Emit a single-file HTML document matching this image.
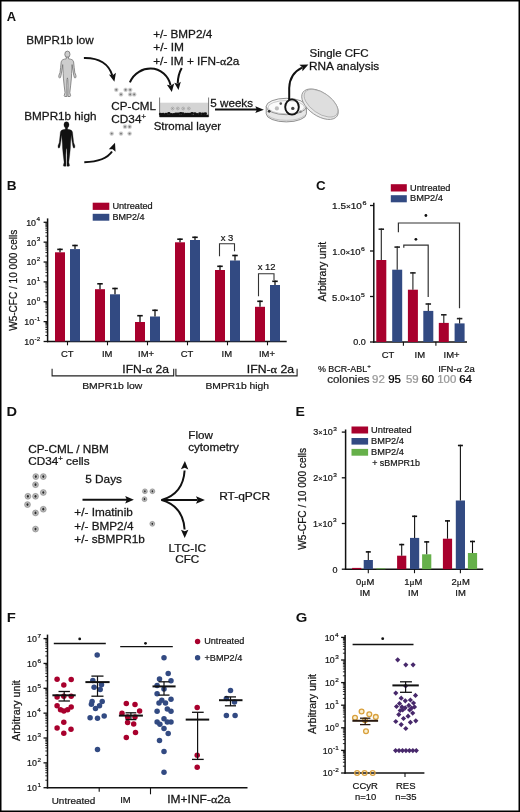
<!DOCTYPE html>
<html><head><meta charset="utf-8"><title>Figure</title>
<style>
html,body{margin:0;padding:0;background:#fff;}
.wrap{position:relative;width:520px;height:812px;overflow:hidden;background:#fff;}
svg{position:absolute;left:0;top:0;font-family:"Liberation Sans",Arial,Helvetica,sans-serif;}
</style></head><body><div class="wrap">
<svg width="520" height="812" viewBox="0 0 520 812">
<rect x="0" y="0" width="520" height="812" fill="#fff"/>
<text transform="translate(6.85,20.80) scale(0.9943,1)" font-size="13" font-weight="bold" fill="#111" >A</text>
<text transform="translate(26.31,44.20) scale(1.0930,1)" font-size="10.7" font-weight="normal" fill="#161616" stroke="#161616" stroke-width="0.25" >BMPR1b low</text>
<text transform="translate(24.31,119.60) scale(1.0942,1)" font-size="10.7" font-weight="normal" fill="#161616" stroke="#161616" stroke-width="0.25" >BMPR1b high</text>
<g transform="translate(58.6,51.1) scale(1.0,1.0)">
<ellipse cx="8.8" cy="3.2" rx="2.6" ry="3.2" fill="#cdcdcd" stroke="#6e6e6e" stroke-width="0.75"/>
<path d="M7.70,6.00 L7.60,7.80 C5.00,8.00 3.00,8.60 2.60,10.80 L2.00,16.50 L1.40,21.50 L0.30,24.20 L0.20,26.00 L1.00,27.00 L1.80,26.50 L2.40,24.50 L3.30,19.00 L4.10,13.50 L4.30,18.00 L4.60,22.50 L4.80,27.00 L5.50,34.00 L6.40,41.50 L5.60,44.60 L6.10,45.40 L8.30,45.40 L8.30,42.00 L8.20,34.00 L8.40,28.50 L8.8,26.8 L9.20,28.50 L9.40,34.00 L9.30,42.00 L9.30,45.40 L11.50,45.40 L12.00,44.60 L11.20,41.50 L12.10,34.00 L12.80,27.00 L13.00,22.50 L13.30,18.00 L13.50,13.50 L14.30,19.00 L15.20,24.50 L15.80,26.50 L16.60,27.00 L17.40,26.00 L17.30,24.20 L16.20,21.50 L15.60,16.50 L15.00,10.80 C14.60,8.60 12.60,8.00 10.00,7.80 L9.90,6.00 Z" fill="#cdcdcd" stroke="#6e6e6e" stroke-width="0.75" stroke-linejoin="round"/>
</g>
<g transform="translate(57.8,121.7) scale(0.983,0.98)">
<ellipse cx="8.8" cy="3.2" rx="2.6" ry="3.2" fill="#111" stroke="#111" stroke-width="0.3"/>
<path d="M7.70,6.00 L7.60,7.80 C5.00,8.00 3.00,8.60 2.60,10.80 L2.00,16.50 L1.40,21.50 L0.30,24.20 L0.20,26.00 L1.00,27.00 L1.80,26.50 L2.40,24.50 L3.30,19.00 L4.10,13.50 L4.30,18.00 L4.60,22.50 L4.80,27.00 L5.50,34.00 L6.40,41.50 L5.60,44.60 L6.10,45.40 L8.30,45.40 L8.30,42.00 L8.20,34.00 L8.40,28.50 L8.8,26.8 L9.20,28.50 L9.40,34.00 L9.30,42.00 L9.30,45.40 L11.50,45.40 L12.00,44.60 L11.20,41.50 L12.10,34.00 L12.80,27.00 L13.00,22.50 L13.30,18.00 L13.50,13.50 L14.30,19.00 L15.20,24.50 L15.80,26.50 L16.60,27.00 L17.40,26.00 L17.30,24.20 L16.20,21.50 L15.60,16.50 L15.00,10.80 C14.60,8.60 12.60,8.00 10.00,7.80 L9.90,6.00 Z" fill="#111" stroke="#111" stroke-width="0.3" stroke-linejoin="round"/>
</g>
<path d="M83.9,57.9 C99,57.5 109,64 112.3,75.5" fill="none" stroke="#111" stroke-width="2.0" />
<path d="M114.40,81.70 L108.92,74.61 L112.78,75.20 L115.91,72.87 Z" fill="#111"/>
<path d="M84.3,162.2 C98,161.8 108,157.5 112,151.5" fill="none" stroke="#111" stroke-width="2.0" />
<path d="M115.00,142.80 L115.54,151.83 L112.67,149.19 L108.78,149.37 Z" fill="#111"/>
<circle cx="116.3" cy="89.8" r="2.4" fill="#e2e2e2"/>
<circle cx="116.3" cy="89.8" r="1.9" fill="#c6c6c6"/>
<circle cx="116.3" cy="89.8" r="0.95" fill="#7a7a7a"/>
<circle cx="125.6" cy="89.8" r="2.4" fill="#e2e2e2"/>
<circle cx="125.6" cy="89.8" r="1.9" fill="#c6c6c6"/>
<circle cx="125.6" cy="89.8" r="0.95" fill="#7a7a7a"/>
<circle cx="130.2" cy="89.8" r="2.4" fill="#e2e2e2"/>
<circle cx="130.2" cy="89.8" r="1.9" fill="#c6c6c6"/>
<circle cx="130.2" cy="89.8" r="0.95" fill="#7a7a7a"/>
<circle cx="121" cy="94.4" r="2.4" fill="#e2e2e2"/>
<circle cx="121" cy="94.4" r="1.9" fill="#c6c6c6"/>
<circle cx="121" cy="94.4" r="0.95" fill="#7a7a7a"/>
<circle cx="130.2" cy="94.4" r="2.4" fill="#e2e2e2"/>
<circle cx="130.2" cy="94.4" r="1.9" fill="#c6c6c6"/>
<circle cx="130.2" cy="94.4" r="0.95" fill="#7a7a7a"/>
<circle cx="134.2" cy="94.4" r="2.4" fill="#e2e2e2"/>
<circle cx="134.2" cy="94.4" r="1.9" fill="#c6c6c6"/>
<circle cx="134.2" cy="94.4" r="0.95" fill="#7a7a7a"/>
<circle cx="125" cy="126.7" r="2.4" fill="#e2e2e2"/>
<circle cx="125" cy="126.7" r="1.9" fill="#c6c6c6"/>
<circle cx="125" cy="126.7" r="0.95" fill="#7a7a7a"/>
<circle cx="129.6" cy="126.7" r="2.4" fill="#e2e2e2"/>
<circle cx="129.6" cy="126.7" r="1.9" fill="#c6c6c6"/>
<circle cx="129.6" cy="126.7" r="0.95" fill="#7a7a7a"/>
<circle cx="111.7" cy="133.6" r="2.4" fill="#e2e2e2"/>
<circle cx="111.7" cy="133.6" r="1.9" fill="#c6c6c6"/>
<circle cx="111.7" cy="133.6" r="0.95" fill="#7a7a7a"/>
<circle cx="121" cy="133.6" r="2.4" fill="#e2e2e2"/>
<circle cx="121" cy="133.6" r="1.9" fill="#c6c6c6"/>
<circle cx="121" cy="133.6" r="0.95" fill="#7a7a7a"/>
<circle cx="129.6" cy="133.6" r="2.4" fill="#e2e2e2"/>
<circle cx="129.6" cy="133.6" r="1.9" fill="#c6c6c6"/>
<circle cx="129.6" cy="133.6" r="0.95" fill="#7a7a7a"/>
<text transform="translate(111.37,109.80) scale(1.0683,1)" font-size="10.9" font-weight="normal" fill="#161616" stroke="#161616" stroke-width="0.25" >CP-CML</text>
<text transform="translate(111.36,122.50) scale(1.0806,1)" font-size="10.9" font-weight="normal" fill="#161616" stroke="#161616" stroke-width="0.25" >CD34<tspan font-size="7" dy="-4">+</tspan></text>
<path d="M129.9,82.4 C134,72.5 143,68.6 150.6,68.6 C161,68.6 168.5,76.5 170.5,85" fill="none" stroke="#111" stroke-width="2.0" />
<path d="M171.80,92.00 L166.89,84.68 L170.78,85.58 L174.20,83.52 Z" fill="#111"/>
<path d="M181.7,68.1 C179.5,72 177.9,77 177.7,83.5" fill="none" stroke="#111" stroke-width="2.0" />
<path d="M178.50,90.00 L174.27,82.66 L177.72,83.65 L180.82,81.86 Z" fill="#111"/>
<text transform="translate(153.24,38.10) scale(1.1282,1)" font-size="10.4" font-weight="normal" fill="#161616" stroke="#161616" stroke-width="0.25" >+/- BMP2/4</text>
<text transform="translate(153.23,51.30) scale(1.1490,1)" font-size="10.4" font-weight="normal" fill="#161616" stroke="#161616" stroke-width="0.25" >+/- IM</text>
<text transform="translate(153.23,65.40) scale(1.1338,1)" font-size="10.4" font-weight="normal" fill="#161616" stroke="#161616" stroke-width="0.25" >+/- IM + IFN-<tspan font-family="Liberation Serif">α</tspan>2a</text>
<rect x="160.00" y="102.70" width="48.60" height="11.50" fill="#d4d4d4"/>
<line x1="159.60" y1="97.50" x2="159.60" y2="117.00" stroke="#555" stroke-width="0.8"/>
<line x1="208.60" y1="97.50" x2="208.60" y2="117.00" stroke="#555" stroke-width="0.8"/>
<rect x="159.60" y="114.60" width="49.00" height="2.60" fill="#111"/>
<ellipse cx="160.50" cy="114.12" rx="1.7" ry="1.45" fill="#111"/>
<ellipse cx="163.17" cy="114.30" rx="1.7" ry="1.45" fill="#111"/>
<ellipse cx="166.02" cy="114.24" rx="1.7" ry="1.45" fill="#111"/>
<ellipse cx="168.85" cy="113.53" rx="1.7" ry="1.45" fill="#111"/>
<ellipse cx="171.26" cy="114.44" rx="1.7" ry="1.45" fill="#111"/>
<ellipse cx="173.85" cy="114.40" rx="1.7" ry="1.45" fill="#111"/>
<ellipse cx="175.95" cy="113.97" rx="1.7" ry="1.45" fill="#111"/>
<ellipse cx="178.17" cy="114.04" rx="1.7" ry="1.45" fill="#111"/>
<ellipse cx="180.69" cy="113.51" rx="1.7" ry="1.45" fill="#111"/>
<ellipse cx="182.88" cy="113.78" rx="1.7" ry="1.45" fill="#111"/>
<ellipse cx="185.71" cy="114.27" rx="1.7" ry="1.45" fill="#111"/>
<ellipse cx="187.85" cy="114.30" rx="1.7" ry="1.45" fill="#111"/>
<ellipse cx="189.98" cy="114.12" rx="1.7" ry="1.45" fill="#111"/>
<ellipse cx="192.09" cy="113.50" rx="1.7" ry="1.45" fill="#111"/>
<ellipse cx="194.88" cy="113.71" rx="1.7" ry="1.45" fill="#111"/>
<ellipse cx="197.07" cy="114.48" rx="1.7" ry="1.45" fill="#111"/>
<ellipse cx="199.86" cy="113.79" rx="1.7" ry="1.45" fill="#111"/>
<ellipse cx="202.72" cy="114.04" rx="1.7" ry="1.45" fill="#111"/>
<ellipse cx="205.33" cy="113.70" rx="1.7" ry="1.45" fill="#111"/>
<circle cx="172.6" cy="108.5" r="1.35" fill="#e6e6e6" stroke="#8a8a8a" stroke-width="0.6"/>
<circle cx="172.6" cy="108.5" r="0.5" fill="#777"/>
<circle cx="177.8" cy="108.5" r="1.35" fill="#e6e6e6" stroke="#8a8a8a" stroke-width="0.6"/>
<circle cx="177.8" cy="108.5" r="0.5" fill="#777"/>
<circle cx="183.2" cy="108.5" r="1.35" fill="#e6e6e6" stroke="#8a8a8a" stroke-width="0.6"/>
<circle cx="183.2" cy="108.5" r="0.5" fill="#777"/>
<circle cx="188.8" cy="108.5" r="1.35" fill="#e6e6e6" stroke="#8a8a8a" stroke-width="0.6"/>
<circle cx="188.8" cy="108.5" r="0.5" fill="#777"/>
<text transform="translate(153.65,129.90) scale(1.1025,1)" font-size="10.4" font-weight="normal" fill="#161616" stroke="#161616" stroke-width="0.25" >Stromal layer</text>
<text transform="translate(210.34,107.10) scale(1.1195,1)" font-size="10.4" font-weight="normal" fill="#161616" stroke="#161616" stroke-width="0.25" >5 weeks</text>
<line x1="215.00" y1="109.60" x2="257.50" y2="109.60" stroke="#111" stroke-width="2"/>
<path d="M263.90,109.70 L255.30,113.10 L256.80,109.70 L255.30,106.30 Z" fill="#111"/>
<path d="M266.2,106.5 L266.2,113.7 A20.1,8.2 0 0 0 306.4,113.7 L306.4,106.5 Z" fill="#e6e6e6" stroke="#777" stroke-width="0.8"/>
<path d="M268,115.5 A20.1,8.2 0 0 0 304.6,115.5" fill="none" stroke="#aaa" stroke-width="0.6"/>
<ellipse cx="286.3" cy="106.5" rx="20.1" ry="8.2" fill="#f6f6f6" stroke="#777" stroke-width="0.8"/>
<ellipse cx="286.3" cy="107.2" rx="18.2" ry="6.6" fill="#fbfbfb" stroke="#aaa" stroke-width="0.6"/>
<circle cx="276.9" cy="108.4" r="2.1" fill="#bdbdbd"/>
<circle cx="269.2" cy="111.3" r="1.4" fill="#333"/>
<circle cx="280.75" cy="103.6" r="1.3" fill="#555"/>
<circle cx="292.8" cy="108.4" r="1.7" fill="#444"/>
<circle cx="300.5" cy="111.8" r="1.2" fill="#888"/>
<ellipse cx="320" cy="104.2" rx="20.8" ry="11.6" transform="rotate(35 320 104.2)" fill="#e9e9e9" stroke="#888" stroke-width="0.8"/>
<ellipse cx="321" cy="103.2" rx="19.3" ry="10.2" transform="rotate(35 321 103.2)" fill="#dedede" stroke="#9a9a9a" stroke-width="0.6"/>
<ellipse cx="292" cy="107" rx="6.8" ry="7.6" fill="none" stroke="#111" stroke-width="1.9"/>
<path d="M289.2,100 L289.2,88 C289.5,78 294,71.5 302,67.6" fill="none" stroke="#111" stroke-width="2.0" />
<path d="M308.40,64.40 L302.43,71.14 L302.27,67.34 L299.40,64.83 Z" fill="#111"/>
<text transform="translate(309.47,57.30) scale(1.0594,1)" font-size="10.9" font-weight="normal" fill="#161616" stroke="#161616" stroke-width="0.25" >Single CFC</text>
<text transform="translate(308.91,69.80) scale(1.0862,1)" font-size="10.9" font-weight="normal" fill="#161616" stroke="#161616" stroke-width="0.25" >RNA analysis</text>
<text transform="translate(6.71,189.60) scale(1.0500,1)" font-size="13" font-weight="bold" fill="#111" >B</text>
<rect x="92.70" y="202.70" width="16.60" height="7.20" fill="#a8002d"/>
<rect x="92.70" y="213.80" width="16.60" height="6.90" fill="#324a82"/>
<text transform="translate(112.40,208.80) scale(1.0685,1)" font-size="8.6" font-weight="normal" fill="#161616" stroke="#161616" stroke-width="0.2" >Untreated</text>
<text transform="translate(112.41,219.90) scale(1.0508,1)" font-size="8.6" font-weight="normal" fill="#161616" stroke="#161616" stroke-width="0.2" >BMP2/4</text>
<line x1="47.60" y1="218.40" x2="47.60" y2="342.20" stroke="#111" stroke-width="1.5"/>
<line x1="46.90" y1="341.50" x2="286.70" y2="341.50" stroke="#111" stroke-width="1.5"/>
<line x1="43.60" y1="341.50" x2="47.60" y2="341.50" stroke="#111" stroke-width="1.3"/>
<line x1="45.40" y1="335.52" x2="47.60" y2="335.52" stroke="#111" stroke-width="0.9"/>
<line x1="45.40" y1="332.02" x2="47.60" y2="332.02" stroke="#111" stroke-width="0.9"/>
<line x1="45.40" y1="329.54" x2="47.60" y2="329.54" stroke="#111" stroke-width="0.9"/>
<line x1="45.40" y1="327.61" x2="47.60" y2="327.61" stroke="#111" stroke-width="0.9"/>
<line x1="45.40" y1="326.04" x2="47.60" y2="326.04" stroke="#111" stroke-width="0.9"/>
<line x1="45.40" y1="324.71" x2="47.60" y2="324.71" stroke="#111" stroke-width="0.9"/>
<line x1="45.40" y1="323.56" x2="47.60" y2="323.56" stroke="#111" stroke-width="0.9"/>
<line x1="45.40" y1="322.54" x2="47.60" y2="322.54" stroke="#111" stroke-width="0.9"/>
<line x1="43.60" y1="321.63" x2="47.60" y2="321.63" stroke="#111" stroke-width="1.3"/>
<line x1="45.40" y1="315.65" x2="47.60" y2="315.65" stroke="#111" stroke-width="0.9"/>
<line x1="45.40" y1="312.15" x2="47.60" y2="312.15" stroke="#111" stroke-width="0.9"/>
<line x1="45.40" y1="309.67" x2="47.60" y2="309.67" stroke="#111" stroke-width="0.9"/>
<line x1="45.40" y1="307.74" x2="47.60" y2="307.74" stroke="#111" stroke-width="0.9"/>
<line x1="45.40" y1="306.17" x2="47.60" y2="306.17" stroke="#111" stroke-width="0.9"/>
<line x1="45.40" y1="304.84" x2="47.60" y2="304.84" stroke="#111" stroke-width="0.9"/>
<line x1="45.40" y1="303.69" x2="47.60" y2="303.69" stroke="#111" stroke-width="0.9"/>
<line x1="45.40" y1="302.67" x2="47.60" y2="302.67" stroke="#111" stroke-width="0.9"/>
<line x1="43.60" y1="301.76" x2="47.60" y2="301.76" stroke="#111" stroke-width="1.3"/>
<line x1="45.40" y1="295.78" x2="47.60" y2="295.78" stroke="#111" stroke-width="0.9"/>
<line x1="45.40" y1="292.28" x2="47.60" y2="292.28" stroke="#111" stroke-width="0.9"/>
<line x1="45.40" y1="289.80" x2="47.60" y2="289.80" stroke="#111" stroke-width="0.9"/>
<line x1="45.40" y1="287.87" x2="47.60" y2="287.87" stroke="#111" stroke-width="0.9"/>
<line x1="45.40" y1="286.30" x2="47.60" y2="286.30" stroke="#111" stroke-width="0.9"/>
<line x1="45.40" y1="284.97" x2="47.60" y2="284.97" stroke="#111" stroke-width="0.9"/>
<line x1="45.40" y1="283.82" x2="47.60" y2="283.82" stroke="#111" stroke-width="0.9"/>
<line x1="45.40" y1="282.80" x2="47.60" y2="282.80" stroke="#111" stroke-width="0.9"/>
<line x1="43.60" y1="281.89" x2="47.60" y2="281.89" stroke="#111" stroke-width="1.3"/>
<line x1="45.40" y1="275.91" x2="47.60" y2="275.91" stroke="#111" stroke-width="0.9"/>
<line x1="45.40" y1="272.41" x2="47.60" y2="272.41" stroke="#111" stroke-width="0.9"/>
<line x1="45.40" y1="269.93" x2="47.60" y2="269.93" stroke="#111" stroke-width="0.9"/>
<line x1="45.40" y1="268.00" x2="47.60" y2="268.00" stroke="#111" stroke-width="0.9"/>
<line x1="45.40" y1="266.43" x2="47.60" y2="266.43" stroke="#111" stroke-width="0.9"/>
<line x1="45.40" y1="265.10" x2="47.60" y2="265.10" stroke="#111" stroke-width="0.9"/>
<line x1="45.40" y1="263.95" x2="47.60" y2="263.95" stroke="#111" stroke-width="0.9"/>
<line x1="45.40" y1="262.93" x2="47.60" y2="262.93" stroke="#111" stroke-width="0.9"/>
<line x1="43.60" y1="262.02" x2="47.60" y2="262.02" stroke="#111" stroke-width="1.3"/>
<line x1="45.40" y1="256.04" x2="47.60" y2="256.04" stroke="#111" stroke-width="0.9"/>
<line x1="45.40" y1="252.54" x2="47.60" y2="252.54" stroke="#111" stroke-width="0.9"/>
<line x1="45.40" y1="250.06" x2="47.60" y2="250.06" stroke="#111" stroke-width="0.9"/>
<line x1="45.40" y1="248.13" x2="47.60" y2="248.13" stroke="#111" stroke-width="0.9"/>
<line x1="45.40" y1="246.56" x2="47.60" y2="246.56" stroke="#111" stroke-width="0.9"/>
<line x1="45.40" y1="245.23" x2="47.60" y2="245.23" stroke="#111" stroke-width="0.9"/>
<line x1="45.40" y1="244.08" x2="47.60" y2="244.08" stroke="#111" stroke-width="0.9"/>
<line x1="45.40" y1="243.06" x2="47.60" y2="243.06" stroke="#111" stroke-width="0.9"/>
<line x1="43.60" y1="242.15" x2="47.60" y2="242.15" stroke="#111" stroke-width="1.3"/>
<line x1="45.40" y1="236.17" x2="47.60" y2="236.17" stroke="#111" stroke-width="0.9"/>
<line x1="45.40" y1="232.67" x2="47.60" y2="232.67" stroke="#111" stroke-width="0.9"/>
<line x1="45.40" y1="230.19" x2="47.60" y2="230.19" stroke="#111" stroke-width="0.9"/>
<line x1="45.40" y1="228.26" x2="47.60" y2="228.26" stroke="#111" stroke-width="0.9"/>
<line x1="45.40" y1="226.69" x2="47.60" y2="226.69" stroke="#111" stroke-width="0.9"/>
<line x1="45.40" y1="225.36" x2="47.60" y2="225.36" stroke="#111" stroke-width="0.9"/>
<line x1="45.40" y1="224.21" x2="47.60" y2="224.21" stroke="#111" stroke-width="0.9"/>
<line x1="45.40" y1="223.19" x2="47.60" y2="223.19" stroke="#111" stroke-width="0.9"/>
<line x1="43.60" y1="222.28" x2="47.60" y2="222.28" stroke="#111" stroke-width="1.3"/>
<text transform="translate(24.24,344.90) scale(1.0800,1)" font-size="8.2" font-weight="normal" fill="#161616" stroke="#161616" stroke-width="0.2" >10<tspan font-size="5.9" dx="0.45" dy="-4.2">-2</tspan></text>
<text transform="translate(24.24,325.03) scale(1.0800,1)" font-size="8.2" font-weight="normal" fill="#161616" stroke="#161616" stroke-width="0.2" >10<tspan font-size="5.9" dx="0.45" dy="-4.2">-1</tspan></text>
<text transform="translate(26.40,305.16) scale(1.0800,1)" font-size="8.2" font-weight="normal" fill="#161616" stroke="#161616" stroke-width="0.2" >10<tspan font-size="5.9" dx="0.45" dy="-4.2">0</tspan></text>
<text transform="translate(26.40,285.29) scale(1.0800,1)" font-size="8.2" font-weight="normal" fill="#161616" stroke="#161616" stroke-width="0.2" >10<tspan font-size="5.9" dx="0.45" dy="-4.2">1</tspan></text>
<text transform="translate(26.40,265.42) scale(1.0800,1)" font-size="8.2" font-weight="normal" fill="#161616" stroke="#161616" stroke-width="0.2" >10<tspan font-size="5.9" dx="0.45" dy="-4.2">2</tspan></text>
<text transform="translate(26.40,245.55) scale(1.0800,1)" font-size="8.2" font-weight="normal" fill="#161616" stroke="#161616" stroke-width="0.2" >10<tspan font-size="5.9" dx="0.45" dy="-4.2">3</tspan></text>
<text transform="translate(26.13,225.68) scale(1.0800,1)" font-size="8.2" font-weight="normal" fill="#161616" stroke="#161616" stroke-width="0.2" >10<tspan font-size="5.9" dx="0.45" dy="-4.2">4</tspan></text>
<line x1="67.50" y1="341.50" x2="67.50" y2="345.30" stroke="#111" stroke-width="1.1"/>
<line x1="107.50" y1="341.50" x2="107.50" y2="345.30" stroke="#111" stroke-width="1.1"/>
<line x1="147.50" y1="341.50" x2="147.50" y2="345.30" stroke="#111" stroke-width="1.1"/>
<line x1="187.50" y1="341.50" x2="187.50" y2="345.30" stroke="#111" stroke-width="1.1"/>
<line x1="227.50" y1="341.50" x2="227.50" y2="345.30" stroke="#111" stroke-width="1.1"/>
<line x1="267.50" y1="341.50" x2="267.50" y2="345.30" stroke="#111" stroke-width="1.1"/>
<rect x="55.00" y="252.30" width="10.00" height="89.20" fill="#a8002d"/>
<line x1="60.00" y1="252.30" x2="60.00" y2="248.60" stroke="#111" stroke-width="1.3"/>
<line x1="57.25" y1="249.40" x2="62.75" y2="249.40" stroke="#111" stroke-width="1.6"/>
<rect x="70.00" y="249.10" width="10.00" height="92.40" fill="#324a82"/>
<line x1="75.00" y1="249.10" x2="75.00" y2="244.70" stroke="#111" stroke-width="1.3"/>
<line x1="72.25" y1="245.50" x2="77.75" y2="245.50" stroke="#111" stroke-width="1.6"/>
<rect x="95.00" y="289.20" width="10.00" height="52.30" fill="#a8002d"/>
<line x1="100.00" y1="289.20" x2="100.00" y2="283.00" stroke="#111" stroke-width="1.3"/>
<line x1="97.25" y1="283.80" x2="102.75" y2="283.80" stroke="#111" stroke-width="1.6"/>
<rect x="110.00" y="294.30" width="10.00" height="47.20" fill="#324a82"/>
<line x1="115.00" y1="294.30" x2="115.00" y2="287.70" stroke="#111" stroke-width="1.3"/>
<line x1="112.25" y1="288.50" x2="117.75" y2="288.50" stroke="#111" stroke-width="1.6"/>
<rect x="135.00" y="322.00" width="10.00" height="19.50" fill="#a8002d"/>
<line x1="140.00" y1="322.00" x2="140.00" y2="314.90" stroke="#111" stroke-width="1.3"/>
<line x1="137.25" y1="315.70" x2="142.75" y2="315.70" stroke="#111" stroke-width="1.6"/>
<rect x="150.00" y="316.50" width="10.00" height="25.00" fill="#324a82"/>
<line x1="155.00" y1="316.50" x2="155.00" y2="309.50" stroke="#111" stroke-width="1.3"/>
<line x1="152.25" y1="310.30" x2="157.75" y2="310.30" stroke="#111" stroke-width="1.6"/>
<rect x="175.00" y="242.30" width="10.00" height="99.20" fill="#a8002d"/>
<line x1="180.00" y1="242.30" x2="180.00" y2="238.40" stroke="#111" stroke-width="1.3"/>
<line x1="177.25" y1="239.20" x2="182.75" y2="239.20" stroke="#111" stroke-width="1.6"/>
<rect x="190.00" y="240.00" width="10.00" height="101.50" fill="#324a82"/>
<line x1="195.00" y1="240.00" x2="195.00" y2="236.50" stroke="#111" stroke-width="1.3"/>
<line x1="192.25" y1="237.30" x2="197.75" y2="237.30" stroke="#111" stroke-width="1.6"/>
<rect x="215.00" y="270.00" width="10.00" height="71.50" fill="#a8002d"/>
<line x1="220.00" y1="270.00" x2="220.00" y2="265.50" stroke="#111" stroke-width="1.3"/>
<line x1="217.25" y1="266.30" x2="222.75" y2="266.30" stroke="#111" stroke-width="1.6"/>
<rect x="230.00" y="260.50" width="10.00" height="81.00" fill="#324a82"/>
<line x1="235.00" y1="260.50" x2="235.00" y2="254.70" stroke="#111" stroke-width="1.3"/>
<line x1="232.25" y1="255.50" x2="237.75" y2="255.50" stroke="#111" stroke-width="1.6"/>
<rect x="255.00" y="306.80" width="10.00" height="34.70" fill="#a8002d"/>
<line x1="260.00" y1="306.80" x2="260.00" y2="300.50" stroke="#111" stroke-width="1.3"/>
<line x1="257.25" y1="301.30" x2="262.75" y2="301.30" stroke="#111" stroke-width="1.6"/>
<rect x="270.00" y="285.00" width="10.00" height="56.50" fill="#324a82"/>
<line x1="275.00" y1="285.00" x2="275.00" y2="280.50" stroke="#111" stroke-width="1.3"/>
<line x1="272.25" y1="281.30" x2="277.75" y2="281.30" stroke="#111" stroke-width="1.6"/>
<path d="M219.5,256.3 L219.5,243.8 L234.5,243.8 L234.5,251.3" fill="none" stroke="#333" stroke-width="1.1" />
<text transform="translate(220.71,241.30) scale(1.1000,1)" font-size="8.6" font-weight="normal" fill="#161616" stroke="#161616" stroke-width="0.2" >x 3</text>
<path d="M258.5,296.3 L258.5,273.8 L274,273.8 L274,280" fill="none" stroke="#333" stroke-width="1.1" />
<text transform="translate(257.75,270.00) scale(1.1000,1)" font-size="8.6" font-weight="normal" fill="#161616" stroke="#161616" stroke-width="0.2" >x 12</text>
<text transform="translate(60.89,357.30) scale(1.1000,1)" font-size="8.6" font-weight="normal" fill="#161616" stroke="#161616" stroke-width="0.2" >CT</text>
<text transform="translate(101.88,357.30) scale(1.1000,1)" font-size="8.6" font-weight="normal" fill="#161616" stroke="#161616" stroke-width="0.2" >IM</text>
<text transform="translate(138.10,357.30) scale(1.1000,1)" font-size="8.6" font-weight="normal" fill="#161616" stroke="#161616" stroke-width="0.2" >IM+</text>
<text transform="translate(180.79,357.30) scale(1.1000,1)" font-size="8.6" font-weight="normal" fill="#161616" stroke="#161616" stroke-width="0.2" >CT</text>
<text transform="translate(221.62,357.30) scale(1.1000,1)" font-size="8.6" font-weight="normal" fill="#161616" stroke="#161616" stroke-width="0.2" >IM</text>
<text transform="translate(258.95,357.30) scale(1.1000,1)" font-size="8.6" font-weight="normal" fill="#161616" stroke="#161616" stroke-width="0.2" >IM+</text>
<path d="M52.1,368.8 L52.1,375.9 L173.7,375.9 L173.7,368.8" fill="none" stroke="#222" stroke-width="1.1" />
<path d="M175.9,368.8 L175.9,375.9 L297.1,375.9 L297.1,368.8" fill="none" stroke="#222" stroke-width="1.1" />
<text transform="translate(122.34,373.20) scale(1.1615,1)" font-size="10.4" font-weight="normal" fill="#161616" stroke="#161616" stroke-width="0.25" >IFN-<tspan font-family="Liberation Serif">α</tspan> 2a</text>
<text transform="translate(246.82,373.20) scale(1.1769,1)" font-size="10.4" font-weight="normal" fill="#161616" stroke="#161616" stroke-width="0.25" >IFN-<tspan font-family="Liberation Serif">α</tspan> 2a</text>
<text transform="translate(82.17,389.30) scale(1.1084,1)" font-size="9.4" font-weight="normal" fill="#161616" stroke="#161616" stroke-width="0.2" >BMPR1b low</text>
<text transform="translate(205.48,389.30) scale(1.0973,1)" font-size="9.4" font-weight="normal" fill="#161616" stroke="#161616" stroke-width="0.2" >BMPR1b high</text>
<text transform="translate(16.70,330.80) rotate(-90) scale(0.8662,1)" font-size="11.6" font-weight="normal" fill="#161616" stroke="#161616" stroke-width="0.25" >W5-CFC / 10 000 cells</text>
<text transform="translate(316.08,189.90) scale(1.0353,1)" font-size="13" font-weight="bold" fill="#111" >C</text>
<rect x="390.80" y="184.20" width="16.00" height="7.30" fill="#a8002d"/>
<rect x="390.80" y="195.20" width="16.00" height="7.10" fill="#324a82"/>
<text transform="translate(410.00,190.60) scale(1.0712,1)" font-size="8.6" font-weight="normal" fill="#161616" stroke="#161616" stroke-width="0.2" >Untreated</text>
<text transform="translate(409.99,201.40) scale(1.0814,1)" font-size="8.6" font-weight="normal" fill="#161616" stroke="#161616" stroke-width="0.2" >BMP2/4</text>
<line x1="373.80" y1="202.80" x2="373.80" y2="342.70" stroke="#111" stroke-width="1.5"/>
<line x1="373.10" y1="342.00" x2="467.00" y2="342.00" stroke="#111" stroke-width="1.5"/>
<line x1="370.00" y1="342.00" x2="373.80" y2="342.00" stroke="#111" stroke-width="1.3"/>
<line x1="370.00" y1="296.50" x2="373.80" y2="296.50" stroke="#111" stroke-width="1.3"/>
<line x1="370.00" y1="251.00" x2="373.80" y2="251.00" stroke="#111" stroke-width="1.3"/>
<line x1="370.00" y1="205.50" x2="373.80" y2="205.50" stroke="#111" stroke-width="1.3"/>
<text transform="translate(353.31,345.00) scale(1.1000,1)" font-size="8.2" font-weight="normal" fill="#161616" stroke="#161616" stroke-width="0.2" >0.0</text>
<text transform="translate(332.12,300.70) scale(1.1600,1)" font-size="8.2" font-weight="normal" fill="#161616" stroke="#161616" stroke-width="0.2" >5.0<tspan font-size="6.8">×</tspan>10<tspan font-size="5.9" dx="0.45" dy="-4.2">5</tspan></text>
<text transform="translate(332.23,254.90) scale(1.1560,1)" font-size="8.2" font-weight="normal" fill="#161616" stroke="#161616" stroke-width="0.2" >1.0<tspan font-size="6.8">×</tspan>10<tspan font-size="5.9" dx="0.45" dy="-4.2">6</tspan></text>
<text transform="translate(332.09,209.20) scale(1.2183,1)" font-size="8.2" font-weight="normal" fill="#161616" stroke="#161616" stroke-width="0.2" >1.5<tspan font-size="6.8">×</tspan>10<tspan font-size="5.9" dx="0.45" dy="-4.2">6</tspan></text>
<line x1="403.40" y1="342.00" x2="403.40" y2="345.80" stroke="#111" stroke-width="1.1"/>
<line x1="435.90" y1="342.00" x2="435.90" y2="345.80" stroke="#111" stroke-width="1.1"/>
<rect x="376.30" y="260.00" width="10.00" height="82.00" fill="#a8002d"/>
<line x1="381.30" y1="260.00" x2="381.30" y2="228.40" stroke="#222" stroke-width="1.1"/>
<line x1="378.55" y1="229.20" x2="384.05" y2="229.20" stroke="#222" stroke-width="1.6"/>
<rect x="392.20" y="269.70" width="10.00" height="72.30" fill="#324a82"/>
<line x1="397.20" y1="269.70" x2="397.20" y2="246.30" stroke="#222" stroke-width="1.1"/>
<line x1="394.45" y1="247.10" x2="399.95" y2="247.10" stroke="#222" stroke-width="1.6"/>
<rect x="407.90" y="289.70" width="10.00" height="52.30" fill="#a8002d"/>
<line x1="412.90" y1="289.70" x2="412.90" y2="272.10" stroke="#222" stroke-width="1.1"/>
<line x1="410.15" y1="272.90" x2="415.65" y2="272.90" stroke="#222" stroke-width="1.6"/>
<rect x="423.30" y="310.90" width="10.00" height="31.10" fill="#324a82"/>
<line x1="428.30" y1="310.90" x2="428.30" y2="303.20" stroke="#222" stroke-width="1.1"/>
<line x1="425.55" y1="304.00" x2="431.05" y2="304.00" stroke="#222" stroke-width="1.6"/>
<rect x="438.80" y="322.90" width="10.00" height="19.10" fill="#a8002d"/>
<line x1="443.80" y1="322.90" x2="443.80" y2="314.00" stroke="#222" stroke-width="1.1"/>
<line x1="441.05" y1="314.80" x2="446.55" y2="314.80" stroke="#222" stroke-width="1.6"/>
<rect x="454.60" y="323.40" width="10.00" height="18.60" fill="#324a82"/>
<line x1="459.60" y1="323.40" x2="459.60" y2="317.80" stroke="#222" stroke-width="1.1"/>
<line x1="456.85" y1="318.60" x2="462.35" y2="318.60" stroke="#222" stroke-width="1.6"/>
<path d="M398.4,232.3 L398.4,223 L459.5,223 L459.5,308.3" fill="none" stroke="#333" stroke-width="1.2" />
<circle cx="425.9" cy="215.5" r="1.4" fill="#111"/>
<path d="M403.8,247.8 L403.8,245.1 L428.2,245.1 L428.2,297" fill="none" stroke="#333" stroke-width="1.2" />
<circle cx="415.9" cy="239.3" r="1.4" fill="#111"/>
<text transform="translate(381.64,358.00) scale(1.1000,1)" font-size="8.6" font-weight="normal" fill="#161616" stroke="#161616" stroke-width="0.2" >CT</text>
<text transform="translate(414.57,358.00) scale(1.1000,1)" font-size="8.6" font-weight="normal" fill="#161616" stroke="#161616" stroke-width="0.2" >IM</text>
<text transform="translate(443.60,358.00) scale(1.1000,1)" font-size="8.6" font-weight="normal" fill="#161616" stroke="#161616" stroke-width="0.2" >IM+</text>
<text transform="translate(317.94,371.70) scale(1.0408,1)" font-size="8.6" font-weight="normal" fill="#161616" stroke="#161616" stroke-width="0.2" >% BCR-ABL<tspan font-size="6" dy="-3.5">+</tspan></text>
<text transform="translate(438.17,371.70) scale(1.1077,1)" font-size="8.6" font-weight="normal" fill="#161616" stroke="#161616" stroke-width="0.2" >IFN-<tspan font-family="Liberation Serif">α</tspan> 2a</text>
<text transform="translate(327.14,383.10) scale(1.1141,1)" font-size="10.4" font-weight="normal" fill="#2a2a2a" stroke="#2a2a2a" stroke-width="0.25" >colonies</text>
<text transform="translate(372.07,383.10) scale(1.1000,1)" font-size="10.4" font-weight="normal" fill="#999" stroke="#999" stroke-width="0.25" >92</text>
<text transform="translate(388.13,383.10) scale(1.1000,1)" font-size="10.4" font-weight="normal" fill="#000" stroke="#000" stroke-width="0.25" >95</text>
<text transform="translate(405.98,383.10) scale(1.1000,1)" font-size="10.4" font-weight="normal" fill="#999" stroke="#999" stroke-width="0.25" >59</text>
<text transform="translate(421.38,383.10) scale(1.1000,1)" font-size="10.4" font-weight="normal" fill="#000" stroke="#000" stroke-width="0.25" >60</text>
<text transform="translate(437.19,383.10) scale(1.1000,1)" font-size="10.4" font-weight="normal" fill="#999" stroke="#999" stroke-width="0.25" >100</text>
<text transform="translate(459.24,383.10) scale(1.1000,1)" font-size="10.4" font-weight="normal" fill="#000" stroke="#000" stroke-width="0.25" >64</text>
<text transform="translate(325.60,301.60) rotate(-90) scale(0.9240,1)" font-size="11.4" font-weight="normal" fill="#161616" stroke="#161616" stroke-width="0.25" >Arbitrary unit</text>
<text transform="translate(6.46,415.80) scale(1.1250,1)" font-size="13" font-weight="bold" fill="#111" >D</text>
<text transform="translate(28.24,452.60) scale(1.1116,1)" font-size="10.6" font-weight="normal" fill="#161616" stroke="#161616" stroke-width="0.25" >CP-CML / NBM</text>
<text transform="translate(28.25,464.80) scale(1.1083,1)" font-size="10.6" font-weight="normal" fill="#161616" stroke="#161616" stroke-width="0.25" >CD34<tspan font-size="7" dy="-4">+</tspan><tspan dy="4"> cells</tspan></text>
<circle cx="35.8" cy="476.6" r="3.5" fill="#ececec"/>
<circle cx="35.8" cy="476.6" r="2.8" fill="#c0c0c0" stroke="#8a8a8a" stroke-width="0.7"/>
<ellipse cx="35.8" cy="476.6" rx="1.01" ry="1.34" fill="#2a2a2a"/>
<circle cx="43.3" cy="476.6" r="3.5" fill="#ececec"/>
<circle cx="43.3" cy="476.6" r="2.8" fill="#c0c0c0" stroke="#8a8a8a" stroke-width="0.7"/>
<ellipse cx="43.3" cy="476.6" rx="1.01" ry="1.34" fill="#2a2a2a"/>
<circle cx="35.5" cy="484.7" r="3.5" fill="#ececec"/>
<circle cx="35.5" cy="484.7" r="2.8" fill="#c0c0c0" stroke="#8a8a8a" stroke-width="0.7"/>
<ellipse cx="35.5" cy="484.7" rx="1.01" ry="1.34" fill="#2a2a2a"/>
<circle cx="43.3" cy="492.5" r="3.5" fill="#ececec"/>
<circle cx="43.3" cy="492.5" r="2.8" fill="#c0c0c0" stroke="#8a8a8a" stroke-width="0.7"/>
<ellipse cx="43.3" cy="492.5" rx="1.01" ry="1.34" fill="#2a2a2a"/>
<circle cx="27.9" cy="496.3" r="3.5" fill="#ececec"/>
<circle cx="27.9" cy="496.3" r="2.8" fill="#c0c0c0" stroke="#8a8a8a" stroke-width="0.7"/>
<ellipse cx="27.9" cy="496.3" rx="1.01" ry="1.34" fill="#2a2a2a"/>
<circle cx="35.5" cy="496.3" r="3.5" fill="#ececec"/>
<circle cx="35.5" cy="496.3" r="2.8" fill="#c0c0c0" stroke="#8a8a8a" stroke-width="0.7"/>
<ellipse cx="35.5" cy="496.3" rx="1.01" ry="1.34" fill="#2a2a2a"/>
<circle cx="27.5" cy="504.6" r="3.5" fill="#ececec"/>
<circle cx="27.5" cy="504.6" r="2.8" fill="#c0c0c0" stroke="#8a8a8a" stroke-width="0.7"/>
<ellipse cx="27.5" cy="504.6" rx="1.01" ry="1.34" fill="#2a2a2a"/>
<circle cx="43.3" cy="509.2" r="3.5" fill="#ececec"/>
<circle cx="43.3" cy="509.2" r="2.8" fill="#c0c0c0" stroke="#8a8a8a" stroke-width="0.7"/>
<ellipse cx="43.3" cy="509.2" rx="1.01" ry="1.34" fill="#2a2a2a"/>
<circle cx="35.5" cy="512.9" r="3.5" fill="#ececec"/>
<circle cx="35.5" cy="512.9" r="2.8" fill="#c0c0c0" stroke="#8a8a8a" stroke-width="0.7"/>
<ellipse cx="35.5" cy="512.9" rx="1.01" ry="1.34" fill="#2a2a2a"/>
<circle cx="35.5" cy="529.1" r="3.5" fill="#ececec"/>
<circle cx="35.5" cy="529.1" r="2.8" fill="#c0c0c0" stroke="#8a8a8a" stroke-width="0.7"/>
<ellipse cx="35.5" cy="529.1" rx="1.01" ry="1.34" fill="#2a2a2a"/>
<text transform="translate(85.24,483.10) scale(1.1156,1)" font-size="10.6" font-weight="normal" fill="#161616" stroke="#161616" stroke-width="0.25" >5 Days</text>
<line x1="82.50" y1="499.80" x2="127.00" y2="499.80" stroke="#111" stroke-width="1.9"/>
<path d="M133.90,499.80 L125.20,503.50 L126.80,499.80 L125.20,496.10 Z" fill="#111"/>
<text transform="translate(74.35,516.20) scale(1.1092,1)" font-size="10.6" font-weight="normal" fill="#161616" stroke="#161616" stroke-width="0.25" >+/- Imatinib</text>
<text transform="translate(74.35,529.70) scale(1.1086,1)" font-size="10.6" font-weight="normal" fill="#161616" stroke="#161616" stroke-width="0.25" >+/- BMP2/4</text>
<text transform="translate(74.34,543.10) scale(1.1133,1)" font-size="10.6" font-weight="normal" fill="#161616" stroke="#161616" stroke-width="0.25" >+/- sBMPR1b</text>
<circle cx="144.9" cy="491.3" r="3.0" fill="#ececec"/>
<circle cx="144.9" cy="491.3" r="2.3" fill="#c0c0c0" stroke="#8a8a8a" stroke-width="0.7"/>
<ellipse cx="144.9" cy="491.3" rx="0.83" ry="1.10" fill="#2a2a2a"/>
<circle cx="152.4" cy="491.3" r="3.0" fill="#ececec"/>
<circle cx="152.4" cy="491.3" r="2.3" fill="#c0c0c0" stroke="#8a8a8a" stroke-width="0.7"/>
<ellipse cx="152.4" cy="491.3" rx="0.83" ry="1.10" fill="#2a2a2a"/>
<circle cx="144.5" cy="499.2" r="3.0" fill="#ececec"/>
<circle cx="144.5" cy="499.2" r="2.3" fill="#c0c0c0" stroke="#8a8a8a" stroke-width="0.7"/>
<ellipse cx="144.5" cy="499.2" rx="0.83" ry="1.10" fill="#2a2a2a"/>
<circle cx="152.3" cy="523.8" r="3.0" fill="#ececec"/>
<circle cx="152.3" cy="523.8" r="2.3" fill="#c0c0c0" stroke="#8a8a8a" stroke-width="0.7"/>
<ellipse cx="152.3" cy="523.8" rx="0.83" ry="1.10" fill="#2a2a2a"/>
<line x1="161.20" y1="500.00" x2="197.50" y2="500.00" stroke="#111" stroke-width="1.9"/>
<path d="M204.90,500.00 L196.00,503.80 L197.60,500.00 L196.00,496.20 Z" fill="#111"/>
<path d="M161.7,500 C172,497 183.5,489 184.6,470.5" fill="none" stroke="#111" stroke-width="2.0" />
<path d="M184.90,461.10 L188.31,469.42 L184.67,467.80 L180.92,469.17 Z" fill="#111"/>
<path d="M161.7,500 C172,503 183.5,511 184.6,529.5" fill="none" stroke="#111" stroke-width="2.0" />
<path d="M184.70,538.10 L181.00,529.80 L184.70,531.30 L188.40,529.80 Z" fill="#111"/>
<text transform="translate(188.30,438.70) scale(1.1000,1)" font-size="10.6" font-weight="normal" fill="#161616" stroke="#161616" stroke-width="0.25" >Flow</text>
<text transform="translate(188.15,451.20) scale(1.1050,1)" font-size="10.6" font-weight="normal" fill="#161616" stroke="#161616" stroke-width="0.25" >cytometry</text>
<text transform="translate(219.15,500.40) scale(1.1291,1)" font-size="10.6" font-weight="normal" fill="#161616" stroke="#161616" stroke-width="0.25" >RT-qPCR</text>
<text transform="translate(168.56,551.50) scale(1.1250,1)" font-size="10.6" font-weight="normal" fill="#161616" stroke="#161616" stroke-width="0.25" >LTC-IC</text>
<text transform="translate(175.34,563.00) scale(1.1000,1)" font-size="10.6" font-weight="normal" fill="#161616" stroke="#161616" stroke-width="0.25" >CFC</text>
<text transform="translate(295.39,415.80) scale(1.0800,1)" font-size="13" font-weight="bold" fill="#111" >E</text>
<line x1="345.60" y1="429.50" x2="345.60" y2="569.90" stroke="#111" stroke-width="1.5"/>
<line x1="344.90" y1="569.20" x2="483.20" y2="569.20" stroke="#111" stroke-width="1.5"/>
<line x1="341.80" y1="569.20" x2="345.60" y2="569.20" stroke="#111" stroke-width="1.3"/>
<line x1="341.80" y1="523.50" x2="345.60" y2="523.50" stroke="#111" stroke-width="1.3"/>
<line x1="341.80" y1="477.80" x2="345.60" y2="477.80" stroke="#111" stroke-width="1.3"/>
<line x1="341.80" y1="432.10" x2="345.60" y2="432.10" stroke="#111" stroke-width="1.3"/>
<text transform="translate(332.57,572.70) scale(1.1000,1)" font-size="8.2" font-weight="normal" fill="#161616" stroke="#161616" stroke-width="0.2" >0</text>
<text transform="translate(313.10,526.60) scale(1.1000,1)" font-size="8.2" font-weight="normal" fill="#161616" stroke="#161616" stroke-width="0.2" >1<tspan font-size="6.8">×</tspan>10<tspan font-size="5.9" dx="0.45" dy="-4.2">3</tspan></text>
<text transform="translate(313.24,480.90) scale(1.1000,1)" font-size="8.2" font-weight="normal" fill="#161616" stroke="#161616" stroke-width="0.2" >2<tspan font-size="6.8">×</tspan>10<tspan font-size="5.9" dx="0.45" dy="-4.2">3</tspan></text>
<text transform="translate(313.24,435.20) scale(1.1000,1)" font-size="8.2" font-weight="normal" fill="#161616" stroke="#161616" stroke-width="0.2" >3<tspan font-size="6.8">×</tspan>10<tspan font-size="5.9" dx="0.45" dy="-4.2">3</tspan></text>
<rect x="351.50" y="426.50" width="16.60" height="7.00" fill="#a8002d"/>
<rect x="351.50" y="438.00" width="16.60" height="6.60" fill="#324a82"/>
<rect x="351.50" y="448.90" width="16.60" height="6.80" fill="#66b04a"/>
<text transform="translate(371.09,432.60) scale(1.0767,1)" font-size="8.6" font-weight="normal" fill="#161616" stroke="#161616" stroke-width="0.2" >Untreated</text>
<text transform="translate(371.10,443.80) scale(1.0712,1)" font-size="8.6" font-weight="normal" fill="#161616" stroke="#161616" stroke-width="0.2" >BMP2/4</text>
<text transform="translate(371.10,455.10) scale(1.0712,1)" font-size="8.6" font-weight="normal" fill="#161616" stroke="#161616" stroke-width="0.2" >BMP2/4</text>
<text transform="translate(372.18,465.80) scale(1.0365,1)" font-size="8.6" font-weight="normal" fill="#161616" stroke="#161616" stroke-width="0.2" >+ sBMPR1b</text>
<rect x="352.10" y="567.90" width="9.20" height="1.30" fill="#a8002d"/>
<rect x="363.70" y="560.00" width="9.20" height="9.20" fill="#324a82"/>
<line x1="368.30" y1="560.00" x2="368.30" y2="551.10" stroke="#111" stroke-width="1.1"/>
<line x1="365.80" y1="551.90" x2="370.80" y2="551.90" stroke="#111" stroke-width="1.6"/>
<rect x="376.30" y="568.40" width="9.20" height="0.80" fill="#66b04a"/>
<rect x="397.10" y="555.70" width="9.20" height="13.50" fill="#a8002d"/>
<line x1="401.70" y1="555.70" x2="401.70" y2="543.80" stroke="#111" stroke-width="1.1"/>
<line x1="399.20" y1="544.60" x2="404.20" y2="544.60" stroke="#111" stroke-width="1.6"/>
<rect x="410.00" y="537.90" width="9.20" height="31.30" fill="#324a82"/>
<line x1="414.60" y1="537.90" x2="414.60" y2="515.50" stroke="#111" stroke-width="1.1"/>
<line x1="412.10" y1="516.30" x2="417.10" y2="516.30" stroke="#111" stroke-width="1.6"/>
<rect x="422.10" y="554.30" width="9.20" height="14.90" fill="#66b04a"/>
<line x1="426.70" y1="554.30" x2="426.70" y2="541.10" stroke="#111" stroke-width="1.1"/>
<line x1="424.20" y1="541.90" x2="429.20" y2="541.90" stroke="#111" stroke-width="1.6"/>
<rect x="442.90" y="538.70" width="9.20" height="30.50" fill="#a8002d"/>
<line x1="447.50" y1="538.70" x2="447.50" y2="520.10" stroke="#111" stroke-width="1.1"/>
<line x1="445.00" y1="520.90" x2="450.00" y2="520.90" stroke="#111" stroke-width="1.6"/>
<rect x="455.80" y="500.50" width="9.20" height="68.70" fill="#324a82"/>
<line x1="460.40" y1="500.50" x2="460.40" y2="444.70" stroke="#111" stroke-width="1.1"/>
<line x1="457.90" y1="445.50" x2="462.90" y2="445.50" stroke="#111" stroke-width="1.6"/>
<rect x="467.90" y="553.00" width="9.20" height="16.20" fill="#66b04a"/>
<line x1="472.50" y1="553.00" x2="472.50" y2="540.70" stroke="#111" stroke-width="1.1"/>
<line x1="470.00" y1="541.50" x2="475.00" y2="541.50" stroke="#111" stroke-width="1.6"/>
<line x1="368.30" y1="569.20" x2="368.30" y2="573.20" stroke="#111" stroke-width="1.1"/>
<line x1="414.50" y1="569.20" x2="414.50" y2="573.20" stroke="#111" stroke-width="1.1"/>
<line x1="460.40" y1="569.20" x2="460.40" y2="573.20" stroke="#111" stroke-width="1.1"/>
<text transform="translate(356.10,585.00) scale(1.1000,1)" font-size="8.6" font-weight="normal" fill="#161616" stroke="#161616" stroke-width="0.2" >0<tspan font-family="Liberation Serif">μ</tspan>M</text>
<text transform="translate(359.67,595.80) scale(1.1000,1)" font-size="8.6" font-weight="normal" fill="#161616" stroke="#161616" stroke-width="0.2" >IM</text>
<text transform="translate(404.23,585.00) scale(1.1000,1)" font-size="8.6" font-weight="normal" fill="#161616" stroke="#161616" stroke-width="0.2" >1<tspan font-family="Liberation Serif">μ</tspan>M</text>
<text transform="translate(408.07,595.80) scale(1.1000,1)" font-size="8.6" font-weight="normal" fill="#161616" stroke="#161616" stroke-width="0.2" >IM</text>
<text transform="translate(451.56,585.00) scale(1.1000,1)" font-size="8.6" font-weight="normal" fill="#161616" stroke="#161616" stroke-width="0.2" >2<tspan font-family="Liberation Serif">μ</tspan>M</text>
<text transform="translate(455.27,595.80) scale(1.1000,1)" font-size="8.6" font-weight="normal" fill="#161616" stroke="#161616" stroke-width="0.2" >IM</text>
<text transform="translate(305.70,549.70) rotate(-90) scale(0.8740,1)" font-size="11.6" font-weight="normal" fill="#161616" stroke="#161616" stroke-width="0.25" >W5-CFC / 10 000 cells</text>
<text transform="translate(6.84,621.50) scale(1.1407,1)" font-size="13" font-weight="bold" fill="#111" >F</text>
<line x1="47.50" y1="634.60" x2="47.50" y2="788.40" stroke="#111" stroke-width="1.5"/>
<line x1="46.80" y1="787.70" x2="247.50" y2="787.70" stroke="#111" stroke-width="1.5"/>
<line x1="43.50" y1="787.70" x2="47.50" y2="787.70" stroke="#111" stroke-width="1.3"/>
<line x1="45.30" y1="780.22" x2="47.50" y2="780.22" stroke="#111" stroke-width="0.9"/>
<line x1="45.30" y1="775.84" x2="47.50" y2="775.84" stroke="#111" stroke-width="0.9"/>
<line x1="45.30" y1="772.74" x2="47.50" y2="772.74" stroke="#111" stroke-width="0.9"/>
<line x1="45.30" y1="770.33" x2="47.50" y2="770.33" stroke="#111" stroke-width="0.9"/>
<line x1="45.30" y1="768.36" x2="47.50" y2="768.36" stroke="#111" stroke-width="0.9"/>
<line x1="45.30" y1="766.70" x2="47.50" y2="766.70" stroke="#111" stroke-width="0.9"/>
<line x1="45.30" y1="765.26" x2="47.50" y2="765.26" stroke="#111" stroke-width="0.9"/>
<line x1="45.30" y1="763.99" x2="47.50" y2="763.99" stroke="#111" stroke-width="0.9"/>
<line x1="43.50" y1="762.85" x2="47.50" y2="762.85" stroke="#111" stroke-width="1.3"/>
<line x1="45.30" y1="755.37" x2="47.50" y2="755.37" stroke="#111" stroke-width="0.9"/>
<line x1="45.30" y1="750.99" x2="47.50" y2="750.99" stroke="#111" stroke-width="0.9"/>
<line x1="45.30" y1="747.89" x2="47.50" y2="747.89" stroke="#111" stroke-width="0.9"/>
<line x1="45.30" y1="745.48" x2="47.50" y2="745.48" stroke="#111" stroke-width="0.9"/>
<line x1="45.30" y1="743.51" x2="47.50" y2="743.51" stroke="#111" stroke-width="0.9"/>
<line x1="45.30" y1="741.85" x2="47.50" y2="741.85" stroke="#111" stroke-width="0.9"/>
<line x1="45.30" y1="740.41" x2="47.50" y2="740.41" stroke="#111" stroke-width="0.9"/>
<line x1="45.30" y1="739.14" x2="47.50" y2="739.14" stroke="#111" stroke-width="0.9"/>
<line x1="43.50" y1="738.00" x2="47.50" y2="738.00" stroke="#111" stroke-width="1.3"/>
<line x1="45.30" y1="730.52" x2="47.50" y2="730.52" stroke="#111" stroke-width="0.9"/>
<line x1="45.30" y1="726.14" x2="47.50" y2="726.14" stroke="#111" stroke-width="0.9"/>
<line x1="45.30" y1="723.04" x2="47.50" y2="723.04" stroke="#111" stroke-width="0.9"/>
<line x1="45.30" y1="720.63" x2="47.50" y2="720.63" stroke="#111" stroke-width="0.9"/>
<line x1="45.30" y1="718.66" x2="47.50" y2="718.66" stroke="#111" stroke-width="0.9"/>
<line x1="45.30" y1="717.00" x2="47.50" y2="717.00" stroke="#111" stroke-width="0.9"/>
<line x1="45.30" y1="715.56" x2="47.50" y2="715.56" stroke="#111" stroke-width="0.9"/>
<line x1="45.30" y1="714.29" x2="47.50" y2="714.29" stroke="#111" stroke-width="0.9"/>
<line x1="43.50" y1="713.15" x2="47.50" y2="713.15" stroke="#111" stroke-width="1.3"/>
<line x1="45.30" y1="705.67" x2="47.50" y2="705.67" stroke="#111" stroke-width="0.9"/>
<line x1="45.30" y1="701.29" x2="47.50" y2="701.29" stroke="#111" stroke-width="0.9"/>
<line x1="45.30" y1="698.19" x2="47.50" y2="698.19" stroke="#111" stroke-width="0.9"/>
<line x1="45.30" y1="695.78" x2="47.50" y2="695.78" stroke="#111" stroke-width="0.9"/>
<line x1="45.30" y1="693.81" x2="47.50" y2="693.81" stroke="#111" stroke-width="0.9"/>
<line x1="45.30" y1="692.15" x2="47.50" y2="692.15" stroke="#111" stroke-width="0.9"/>
<line x1="45.30" y1="690.71" x2="47.50" y2="690.71" stroke="#111" stroke-width="0.9"/>
<line x1="45.30" y1="689.44" x2="47.50" y2="689.44" stroke="#111" stroke-width="0.9"/>
<line x1="43.50" y1="688.30" x2="47.50" y2="688.30" stroke="#111" stroke-width="1.3"/>
<line x1="45.30" y1="680.82" x2="47.50" y2="680.82" stroke="#111" stroke-width="0.9"/>
<line x1="45.30" y1="676.44" x2="47.50" y2="676.44" stroke="#111" stroke-width="0.9"/>
<line x1="45.30" y1="673.34" x2="47.50" y2="673.34" stroke="#111" stroke-width="0.9"/>
<line x1="45.30" y1="670.93" x2="47.50" y2="670.93" stroke="#111" stroke-width="0.9"/>
<line x1="45.30" y1="668.96" x2="47.50" y2="668.96" stroke="#111" stroke-width="0.9"/>
<line x1="45.30" y1="667.30" x2="47.50" y2="667.30" stroke="#111" stroke-width="0.9"/>
<line x1="45.30" y1="665.86" x2="47.50" y2="665.86" stroke="#111" stroke-width="0.9"/>
<line x1="45.30" y1="664.59" x2="47.50" y2="664.59" stroke="#111" stroke-width="0.9"/>
<line x1="43.50" y1="663.45" x2="47.50" y2="663.45" stroke="#111" stroke-width="1.3"/>
<line x1="45.30" y1="655.97" x2="47.50" y2="655.97" stroke="#111" stroke-width="0.9"/>
<line x1="45.30" y1="651.59" x2="47.50" y2="651.59" stroke="#111" stroke-width="0.9"/>
<line x1="45.30" y1="648.49" x2="47.50" y2="648.49" stroke="#111" stroke-width="0.9"/>
<line x1="45.30" y1="646.08" x2="47.50" y2="646.08" stroke="#111" stroke-width="0.9"/>
<line x1="45.30" y1="644.11" x2="47.50" y2="644.11" stroke="#111" stroke-width="0.9"/>
<line x1="45.30" y1="642.45" x2="47.50" y2="642.45" stroke="#111" stroke-width="0.9"/>
<line x1="45.30" y1="641.01" x2="47.50" y2="641.01" stroke="#111" stroke-width="0.9"/>
<line x1="45.30" y1="639.74" x2="47.50" y2="639.74" stroke="#111" stroke-width="0.9"/>
<line x1="43.50" y1="638.60" x2="47.50" y2="638.60" stroke="#111" stroke-width="1.3"/>
<text transform="translate(27.10,791.10) scale(1.0800,1)" font-size="8.2" font-weight="normal" fill="#161616" stroke="#161616" stroke-width="0.2" >10<tspan font-size="5.9" dx="0.45" dy="-4.2">1</tspan></text>
<text transform="translate(27.10,766.25) scale(1.0800,1)" font-size="8.2" font-weight="normal" fill="#161616" stroke="#161616" stroke-width="0.2" >10<tspan font-size="5.9" dx="0.45" dy="-4.2">2</tspan></text>
<text transform="translate(27.10,741.40) scale(1.0800,1)" font-size="8.2" font-weight="normal" fill="#161616" stroke="#161616" stroke-width="0.2" >10<tspan font-size="5.9" dx="0.45" dy="-4.2">3</tspan></text>
<text transform="translate(26.83,716.55) scale(1.0800,1)" font-size="8.2" font-weight="normal" fill="#161616" stroke="#161616" stroke-width="0.2" >10<tspan font-size="5.9" dx="0.45" dy="-4.2">4</tspan></text>
<text transform="translate(27.10,691.70) scale(1.0800,1)" font-size="8.2" font-weight="normal" fill="#161616" stroke="#161616" stroke-width="0.2" >10<tspan font-size="5.9" dx="0.45" dy="-4.2">5</tspan></text>
<text transform="translate(27.10,666.85) scale(1.0800,1)" font-size="8.2" font-weight="normal" fill="#161616" stroke="#161616" stroke-width="0.2" >10<tspan font-size="5.9" dx="0.45" dy="-4.2">6</tspan></text>
<text transform="translate(27.10,642.00) scale(1.0800,1)" font-size="8.2" font-weight="normal" fill="#161616" stroke="#161616" stroke-width="0.2" >10<tspan font-size="5.9" dx="0.45" dy="-4.2">7</tspan></text>
<line x1="99.20" y1="787.70" x2="99.20" y2="791.70" stroke="#111" stroke-width="1.1"/>
<line x1="150.50" y1="787.70" x2="150.50" y2="794.30" stroke="#111" stroke-width="1.1"/>
<text transform="translate(51.71,803.80) scale(1.0566,1)" font-size="9.4" font-weight="normal" fill="#161616" stroke="#161616" stroke-width="0.2" >Untreated</text>
<text transform="translate(120.18,803.10) scale(1.1000,1)" font-size="8.6" font-weight="normal" fill="#161616" stroke="#161616" stroke-width="0.2" >IM</text>
<text transform="translate(167.24,802.50) scale(1.1553,1)" font-size="10.4" font-weight="normal" fill="#161616" stroke="#161616" stroke-width="0.25" >IM+INF-<tspan font-family="Liberation Serif">α</tspan>2a</text>
<text transform="translate(20.00,740.90) rotate(-90) scale(0.9411,1)" font-size="11.4" font-weight="normal" fill="#161616" stroke="#161616" stroke-width="0.25" >Arbitrary unit</text>
<line x1="53.80" y1="643.50" x2="105.80" y2="643.50" stroke="#111" stroke-width="1.4"/>
<circle cx="79.7" cy="638.9" r="1.4" fill="#111"/>
<line x1="120.20" y1="646.60" x2="172.80" y2="646.60" stroke="#111" stroke-width="1.4"/>
<circle cx="145.5" cy="643.3" r="1.4" fill="#111"/>
<circle cx="197.6" cy="641.5" r="2.7" fill="#a8002d"/>
<circle cx="197.6" cy="657.7" r="2.7" fill="#324a82"/>
<text transform="translate(204.20,644.40) scale(1.0630,1)" font-size="8.6" font-weight="normal" fill="#161616" stroke="#161616" stroke-width="0.2" >Untreated</text>
<text transform="translate(204.47,660.50) scale(1.0619,1)" font-size="8.6" font-weight="normal" fill="#161616" stroke="#161616" stroke-width="0.2" >+BMP2/4</text>
<circle cx="57.1" cy="679.2" r="2.75" fill="#a8002d"/>
<circle cx="71.2" cy="679.4" r="2.75" fill="#a8002d"/>
<circle cx="63.8" cy="685.1" r="2.75" fill="#a8002d"/>
<circle cx="57.1" cy="696.9" r="2.75" fill="#a8002d"/>
<circle cx="63.8" cy="696.2" r="2.75" fill="#a8002d"/>
<circle cx="71.2" cy="696.2" r="2.75" fill="#a8002d"/>
<circle cx="57.1" cy="705.7" r="2.75" fill="#a8002d"/>
<circle cx="71.2" cy="707" r="2.75" fill="#a8002d"/>
<circle cx="60.5" cy="709.7" r="2.75" fill="#a8002d"/>
<circle cx="63.8" cy="711" r="2.75" fill="#a8002d"/>
<circle cx="67.6" cy="709.7" r="2.75" fill="#a8002d"/>
<circle cx="63.8" cy="722.2" r="2.75" fill="#a8002d"/>
<circle cx="57.1" cy="728.1" r="2.75" fill="#a8002d"/>
<circle cx="71" cy="729.2" r="2.75" fill="#a8002d"/>
<circle cx="63.8" cy="733.3" r="2.75" fill="#a8002d"/>
<line x1="64.20" y1="691.50" x2="64.20" y2="701.00" stroke="#111" stroke-width="1.2"/>
<line x1="58.50" y1="691.50" x2="69.90" y2="691.50" stroke="#111" stroke-width="1.3"/>
<line x1="58.50" y1="701.00" x2="69.90" y2="701.00" stroke="#111" stroke-width="1.3"/>
<line x1="52.40" y1="695.30" x2="75.70" y2="695.30" stroke="#111" stroke-width="2.0"/>
<circle cx="97.2" cy="654.9" r="2.75" fill="#324a82"/>
<circle cx="92.8" cy="680.5" r="2.75" fill="#324a82"/>
<circle cx="94.1" cy="687.2" r="2.75" fill="#324a82"/>
<circle cx="101.5" cy="684.8" r="2.75" fill="#324a82"/>
<circle cx="100.2" cy="689.5" r="2.75" fill="#324a82"/>
<circle cx="92.1" cy="701.6" r="2.75" fill="#324a82"/>
<circle cx="102.2" cy="701.6" r="2.75" fill="#324a82"/>
<circle cx="91.4" cy="704.3" r="2.75" fill="#324a82"/>
<circle cx="99.5" cy="705.7" r="2.75" fill="#324a82"/>
<circle cx="95.5" cy="708.4" r="2.75" fill="#324a82"/>
<circle cx="90.1" cy="717.8" r="2.75" fill="#324a82"/>
<circle cx="97.5" cy="718.2" r="2.75" fill="#324a82"/>
<circle cx="104.2" cy="716" r="2.75" fill="#324a82"/>
<circle cx="97.5" cy="749.4" r="2.75" fill="#324a82"/>
<line x1="97.50" y1="676.10" x2="97.50" y2="696.20" stroke="#111" stroke-width="1.2"/>
<line x1="91.40" y1="676.10" x2="103.50" y2="676.10" stroke="#111" stroke-width="1.3"/>
<line x1="91.40" y1="696.20" x2="103.50" y2="696.20" stroke="#111" stroke-width="1.3"/>
<line x1="85.40" y1="682.10" x2="109.60" y2="682.10" stroke="#111" stroke-width="2.0"/>
<circle cx="126.3" cy="703.6" r="2.75" fill="#a8002d"/>
<circle cx="135" cy="704.5" r="2.75" fill="#a8002d"/>
<circle cx="139.6" cy="711" r="2.75" fill="#a8002d"/>
<circle cx="122" cy="713.2" r="2.75" fill="#a8002d"/>
<circle cx="127.6" cy="716.9" r="2.75" fill="#a8002d"/>
<circle cx="135" cy="716.9" r="2.75" fill="#a8002d"/>
<circle cx="127.6" cy="722.4" r="2.75" fill="#a8002d"/>
<circle cx="133.7" cy="723.9" r="2.75" fill="#a8002d"/>
<circle cx="135.5" cy="732.6" r="2.75" fill="#a8002d"/>
<circle cx="126.3" cy="737.6" r="2.75" fill="#a8002d"/>
<line x1="130.90" y1="712.80" x2="130.90" y2="719.60" stroke="#111" stroke-width="1.2"/>
<line x1="125.50" y1="712.80" x2="136.30" y2="712.80" stroke="#111" stroke-width="1.3"/>
<line x1="125.50" y1="719.60" x2="136.30" y2="719.60" stroke="#111" stroke-width="1.3"/>
<line x1="118.90" y1="715.60" x2="142.90" y2="715.60" stroke="#111" stroke-width="2.0"/>
<circle cx="164" cy="657.7" r="2.75" fill="#324a82"/>
<circle cx="168.2" cy="673.4" r="2.75" fill="#324a82"/>
<circle cx="159.5" cy="679" r="2.75" fill="#324a82"/>
<circle cx="171" cy="680.8" r="2.75" fill="#324a82"/>
<circle cx="157.1" cy="685.5" r="2.75" fill="#324a82"/>
<circle cx="164" cy="689.1" r="2.75" fill="#324a82"/>
<circle cx="157.1" cy="693.8" r="2.75" fill="#324a82"/>
<circle cx="161.8" cy="700.2" r="2.75" fill="#324a82"/>
<circle cx="171" cy="699.3" r="2.75" fill="#324a82"/>
<circle cx="165.5" cy="703" r="2.75" fill="#324a82"/>
<circle cx="159" cy="703" r="2.75" fill="#324a82"/>
<circle cx="157.1" cy="711.3" r="2.75" fill="#324a82"/>
<circle cx="167.3" cy="709.1" r="2.75" fill="#324a82"/>
<circle cx="171" cy="711.3" r="2.75" fill="#324a82"/>
<circle cx="164" cy="718.7" r="2.75" fill="#324a82"/>
<circle cx="157.1" cy="721.9" r="2.75" fill="#324a82"/>
<circle cx="167.3" cy="721.9" r="2.75" fill="#324a82"/>
<circle cx="171" cy="721.9" r="2.75" fill="#324a82"/>
<circle cx="159.9" cy="724.3" r="2.75" fill="#324a82"/>
<circle cx="164" cy="728.5" r="2.75" fill="#324a82"/>
<circle cx="168.2" cy="733.5" r="2.75" fill="#324a82"/>
<circle cx="159.5" cy="740.5" r="2.75" fill="#324a82"/>
<circle cx="164" cy="751.6" r="2.75" fill="#324a82"/>
<circle cx="164" cy="772.3" r="2.75" fill="#324a82"/>
<line x1="164.00" y1="681.80" x2="164.00" y2="695.10" stroke="#111" stroke-width="1.2"/>
<line x1="158.50" y1="681.80" x2="169.50" y2="681.80" stroke="#111" stroke-width="1.3"/>
<line x1="158.50" y1="695.10" x2="169.50" y2="695.10" stroke="#111" stroke-width="1.3"/>
<line x1="152.50" y1="686.40" x2="175.60" y2="686.40" stroke="#111" stroke-width="2.0"/>
<circle cx="197.2" cy="707.6" r="2.75" fill="#a8002d"/>
<circle cx="197.2" cy="755.3" r="2.75" fill="#a8002d"/>
<circle cx="197.2" cy="767.2" r="2.75" fill="#a8002d"/>
<line x1="197.60" y1="712.30" x2="197.60" y2="759.40" stroke="#111" stroke-width="1.2"/>
<line x1="192.00" y1="712.30" x2="203.70" y2="712.30" stroke="#111" stroke-width="1.3"/>
<line x1="192.00" y1="759.40" x2="203.70" y2="759.40" stroke="#111" stroke-width="1.3"/>
<line x1="185.70" y1="719.60" x2="209.20" y2="719.60" stroke="#111" stroke-width="2.0"/>
<circle cx="230.5" cy="690.6" r="2.75" fill="#324a82"/>
<circle cx="226.4" cy="698.4" r="2.75" fill="#324a82"/>
<circle cx="234.5" cy="702.1" r="2.75" fill="#324a82"/>
<circle cx="226.4" cy="715.4" r="2.75" fill="#324a82"/>
<circle cx="235.1" cy="715.4" r="2.75" fill="#324a82"/>
<line x1="230.50" y1="696.90" x2="230.50" y2="705.80" stroke="#111" stroke-width="1.2"/>
<line x1="224.90" y1="696.90" x2="236.00" y2="696.90" stroke="#111" stroke-width="1.3"/>
<line x1="224.90" y1="705.80" x2="236.00" y2="705.80" stroke="#111" stroke-width="1.3"/>
<line x1="219.00" y1="700.20" x2="242.50" y2="700.20" stroke="#111" stroke-width="2.0"/>
<text transform="translate(295.63,622.30) scale(1.1429,1)" font-size="13" font-weight="bold" fill="#111" >G</text>
<line x1="345.10" y1="635.10" x2="345.10" y2="773.70" stroke="#111" stroke-width="1.5"/>
<line x1="344.40" y1="773.00" x2="424.40" y2="773.00" stroke="#111" stroke-width="1.5"/>
<line x1="341.10" y1="773.00" x2="345.10" y2="773.00" stroke="#111" stroke-width="1.3"/>
<line x1="342.90" y1="766.20" x2="345.10" y2="766.20" stroke="#111" stroke-width="0.9"/>
<line x1="342.90" y1="762.22" x2="345.10" y2="762.22" stroke="#111" stroke-width="0.9"/>
<line x1="342.90" y1="759.39" x2="345.10" y2="759.39" stroke="#111" stroke-width="0.9"/>
<line x1="342.90" y1="757.20" x2="345.10" y2="757.20" stroke="#111" stroke-width="0.9"/>
<line x1="342.90" y1="755.41" x2="345.10" y2="755.41" stroke="#111" stroke-width="0.9"/>
<line x1="342.90" y1="753.90" x2="345.10" y2="753.90" stroke="#111" stroke-width="0.9"/>
<line x1="342.90" y1="752.59" x2="345.10" y2="752.59" stroke="#111" stroke-width="0.9"/>
<line x1="342.90" y1="751.43" x2="345.10" y2="751.43" stroke="#111" stroke-width="0.9"/>
<line x1="341.10" y1="750.40" x2="345.10" y2="750.40" stroke="#111" stroke-width="1.3"/>
<line x1="342.90" y1="743.60" x2="345.10" y2="743.60" stroke="#111" stroke-width="0.9"/>
<line x1="342.90" y1="739.62" x2="345.10" y2="739.62" stroke="#111" stroke-width="0.9"/>
<line x1="342.90" y1="736.79" x2="345.10" y2="736.79" stroke="#111" stroke-width="0.9"/>
<line x1="342.90" y1="734.60" x2="345.10" y2="734.60" stroke="#111" stroke-width="0.9"/>
<line x1="342.90" y1="732.81" x2="345.10" y2="732.81" stroke="#111" stroke-width="0.9"/>
<line x1="342.90" y1="731.30" x2="345.10" y2="731.30" stroke="#111" stroke-width="0.9"/>
<line x1="342.90" y1="729.99" x2="345.10" y2="729.99" stroke="#111" stroke-width="0.9"/>
<line x1="342.90" y1="728.83" x2="345.10" y2="728.83" stroke="#111" stroke-width="0.9"/>
<line x1="341.10" y1="727.80" x2="345.10" y2="727.80" stroke="#111" stroke-width="1.3"/>
<line x1="342.90" y1="721.00" x2="345.10" y2="721.00" stroke="#111" stroke-width="0.9"/>
<line x1="342.90" y1="717.02" x2="345.10" y2="717.02" stroke="#111" stroke-width="0.9"/>
<line x1="342.90" y1="714.19" x2="345.10" y2="714.19" stroke="#111" stroke-width="0.9"/>
<line x1="342.90" y1="712.00" x2="345.10" y2="712.00" stroke="#111" stroke-width="0.9"/>
<line x1="342.90" y1="710.21" x2="345.10" y2="710.21" stroke="#111" stroke-width="0.9"/>
<line x1="342.90" y1="708.70" x2="345.10" y2="708.70" stroke="#111" stroke-width="0.9"/>
<line x1="342.90" y1="707.39" x2="345.10" y2="707.39" stroke="#111" stroke-width="0.9"/>
<line x1="342.90" y1="706.23" x2="345.10" y2="706.23" stroke="#111" stroke-width="0.9"/>
<line x1="341.10" y1="705.20" x2="345.10" y2="705.20" stroke="#111" stroke-width="1.3"/>
<line x1="342.90" y1="698.40" x2="345.10" y2="698.40" stroke="#111" stroke-width="0.9"/>
<line x1="342.90" y1="694.42" x2="345.10" y2="694.42" stroke="#111" stroke-width="0.9"/>
<line x1="342.90" y1="691.59" x2="345.10" y2="691.59" stroke="#111" stroke-width="0.9"/>
<line x1="342.90" y1="689.40" x2="345.10" y2="689.40" stroke="#111" stroke-width="0.9"/>
<line x1="342.90" y1="687.61" x2="345.10" y2="687.61" stroke="#111" stroke-width="0.9"/>
<line x1="342.90" y1="686.10" x2="345.10" y2="686.10" stroke="#111" stroke-width="0.9"/>
<line x1="342.90" y1="684.79" x2="345.10" y2="684.79" stroke="#111" stroke-width="0.9"/>
<line x1="342.90" y1="683.63" x2="345.10" y2="683.63" stroke="#111" stroke-width="0.9"/>
<line x1="341.10" y1="682.60" x2="345.10" y2="682.60" stroke="#111" stroke-width="1.3"/>
<line x1="342.90" y1="675.80" x2="345.10" y2="675.80" stroke="#111" stroke-width="0.9"/>
<line x1="342.90" y1="671.82" x2="345.10" y2="671.82" stroke="#111" stroke-width="0.9"/>
<line x1="342.90" y1="668.99" x2="345.10" y2="668.99" stroke="#111" stroke-width="0.9"/>
<line x1="342.90" y1="666.80" x2="345.10" y2="666.80" stroke="#111" stroke-width="0.9"/>
<line x1="342.90" y1="665.01" x2="345.10" y2="665.01" stroke="#111" stroke-width="0.9"/>
<line x1="342.90" y1="663.50" x2="345.10" y2="663.50" stroke="#111" stroke-width="0.9"/>
<line x1="342.90" y1="662.19" x2="345.10" y2="662.19" stroke="#111" stroke-width="0.9"/>
<line x1="342.90" y1="661.03" x2="345.10" y2="661.03" stroke="#111" stroke-width="0.9"/>
<line x1="341.10" y1="660.00" x2="345.10" y2="660.00" stroke="#111" stroke-width="1.3"/>
<line x1="342.90" y1="653.20" x2="345.10" y2="653.20" stroke="#111" stroke-width="0.9"/>
<line x1="342.90" y1="649.22" x2="345.10" y2="649.22" stroke="#111" stroke-width="0.9"/>
<line x1="342.90" y1="646.39" x2="345.10" y2="646.39" stroke="#111" stroke-width="0.9"/>
<line x1="342.90" y1="644.20" x2="345.10" y2="644.20" stroke="#111" stroke-width="0.9"/>
<line x1="342.90" y1="642.41" x2="345.10" y2="642.41" stroke="#111" stroke-width="0.9"/>
<line x1="342.90" y1="640.90" x2="345.10" y2="640.90" stroke="#111" stroke-width="0.9"/>
<line x1="342.90" y1="639.59" x2="345.10" y2="639.59" stroke="#111" stroke-width="0.9"/>
<line x1="342.90" y1="638.43" x2="345.10" y2="638.43" stroke="#111" stroke-width="0.9"/>
<line x1="341.10" y1="637.40" x2="345.10" y2="637.40" stroke="#111" stroke-width="1.3"/>
<text transform="translate(322.74,776.40) scale(1.0800,1)" font-size="8.2" font-weight="normal" fill="#161616" stroke="#161616" stroke-width="0.2" >10<tspan font-size="5.9" dx="0.45" dy="-4.2">-2</tspan></text>
<text transform="translate(322.74,753.80) scale(1.0800,1)" font-size="8.2" font-weight="normal" fill="#161616" stroke="#161616" stroke-width="0.2" >10<tspan font-size="5.9" dx="0.45" dy="-4.2">-1</tspan></text>
<text transform="translate(324.90,731.20) scale(1.0800,1)" font-size="8.2" font-weight="normal" fill="#161616" stroke="#161616" stroke-width="0.2" >10<tspan font-size="5.9" dx="0.45" dy="-4.2">0</tspan></text>
<text transform="translate(324.90,708.60) scale(1.0800,1)" font-size="8.2" font-weight="normal" fill="#161616" stroke="#161616" stroke-width="0.2" >10<tspan font-size="5.9" dx="0.45" dy="-4.2">1</tspan></text>
<text transform="translate(324.90,686.00) scale(1.0800,1)" font-size="8.2" font-weight="normal" fill="#161616" stroke="#161616" stroke-width="0.2" >10<tspan font-size="5.9" dx="0.45" dy="-4.2">2</tspan></text>
<text transform="translate(324.90,663.40) scale(1.0800,1)" font-size="8.2" font-weight="normal" fill="#161616" stroke="#161616" stroke-width="0.2" >10<tspan font-size="5.9" dx="0.45" dy="-4.2">3</tspan></text>
<text transform="translate(324.63,640.80) scale(1.0800,1)" font-size="8.2" font-weight="normal" fill="#161616" stroke="#161616" stroke-width="0.2" >10<tspan font-size="5.9" dx="0.45" dy="-4.2">4</tspan></text>
<line x1="405.00" y1="773.00" x2="405.00" y2="777.00" stroke="#111" stroke-width="1.1"/>
<line x1="352.60" y1="644.50" x2="413.50" y2="644.50" stroke="#111" stroke-width="1.4"/>
<circle cx="382.7" cy="638.7" r="1.4" fill="#111"/>
<text transform="translate(352.60,789.20) scale(1.1000,1)" font-size="8.6" font-weight="normal" fill="#161616" stroke="#161616" stroke-width="0.2" >CCyR</text>
<text transform="translate(396.05,789.20) scale(1.1000,1)" font-size="8.6" font-weight="normal" fill="#161616" stroke="#161616" stroke-width="0.2" >RES</text>
<text transform="translate(355.02,799.90) scale(1.1000,1)" font-size="8.6" font-weight="normal" fill="#161616" stroke="#161616" stroke-width="0.2" >n=10</text>
<text transform="translate(395.23,799.90) scale(1.1000,1)" font-size="8.6" font-weight="normal" fill="#161616" stroke="#161616" stroke-width="0.2" >n=35</text>
<text transform="translate(316.20,734.00) rotate(-90) scale(0.9302,1)" font-size="11.4" font-weight="normal" fill="#161616" stroke="#161616" stroke-width="0.25" >Arbitrary unit</text>
<circle cx="361.6" cy="711.5" r="2.4" fill="#fbf0cf" stroke="#d9a03c" stroke-width="1.3"/>
<circle cx="369.3" cy="714.2" r="2.4" fill="#fbf0cf" stroke="#d9a03c" stroke-width="1.3"/>
<circle cx="355" cy="717.7" r="2.4" fill="#fbf0cf" stroke="#d9a03c" stroke-width="1.3"/>
<circle cx="375.8" cy="716.9" r="2.4" fill="#fbf0cf" stroke="#d9a03c" stroke-width="1.3"/>
<circle cx="365" cy="720.3" r="2.4" fill="#fbf0cf" stroke="#d9a03c" stroke-width="1.3"/>
<circle cx="366" cy="731.3" r="2.4" fill="#fbf0cf" stroke="#d9a03c" stroke-width="1.3"/>
<circle cx="357.1" cy="773" r="2.4" fill="none" stroke="#d9a03c" stroke-width="1.3"/>
<circle cx="364.6" cy="773" r="2.4" fill="none" stroke="#d9a03c" stroke-width="1.3"/>
<circle cx="372.7" cy="773" r="2.4" fill="none" stroke="#d9a03c" stroke-width="1.3"/>
<line x1="365.20" y1="718.20" x2="365.20" y2="724.60" stroke="#2a1a10" stroke-width="1.2"/>
<line x1="360.00" y1="718.20" x2="370.40" y2="718.20" stroke="#2a1a10" stroke-width="1.3"/>
<line x1="360.00" y1="724.60" x2="370.40" y2="724.60" stroke="#2a1a10" stroke-width="1.3"/>
<line x1="352.40" y1="720.80" x2="378.10" y2="720.80" stroke="#2a1a10" stroke-width="2.0"/>
<path d="M397.7,657.1999999999999 L400.3,659.8 L397.7,662.4 L395.09999999999997,659.8 Z" fill="#47286b"/>
<path d="M405.8,662.1999999999999 L408.40000000000003,664.8 L405.8,667.4 L403.2,664.8 Z" fill="#47286b"/>
<path d="M413.1,662.1999999999999 L415.70000000000005,664.8 L413.1,667.4 L410.5,664.8 Z" fill="#47286b"/>
<path d="M395.8,690.5 L398.40000000000003,693.1 L395.8,695.7 L393.2,693.1 Z" fill="#47286b"/>
<path d="M415.5,692.8 L418.1,695.4 L415.5,698.0 L412.9,695.4 Z" fill="#47286b"/>
<path d="M401.2,695.6 L403.8,698.2 L401.2,700.8000000000001 L398.59999999999997,698.2 Z" fill="#47286b"/>
<path d="M405.3,698.1999999999999 L407.90000000000003,700.8 L405.3,703.4 L402.7,700.8 Z" fill="#47286b"/>
<path d="M410.4,697.4 L413.0,700 L410.4,702.6 L407.79999999999995,700 Z" fill="#47286b"/>
<path d="M396.5,703.9 L399.1,706.5 L396.5,709.1 L393.9,706.5 Z" fill="#47286b"/>
<path d="M401.9,704.3 L404.5,706.9 L401.9,709.5 L399.29999999999995,706.9 Z" fill="#47286b"/>
<path d="M408.8,702.8 L411.40000000000003,705.4 L408.8,708.0 L406.2,705.4 Z" fill="#47286b"/>
<path d="M414.5,704.3 L417.1,706.9 L414.5,709.5 L411.9,706.9 Z" fill="#47286b"/>
<path d="M402.7,707.4 L405.3,710 L402.7,712.6 L400.09999999999997,710 Z" fill="#47286b"/>
<path d="M409.6,707.4 L412.20000000000005,710 L409.6,712.6 L407.0,710 Z" fill="#47286b"/>
<path d="M398.8,712.0 L401.40000000000003,714.6 L398.8,717.2 L396.2,714.6 Z" fill="#47286b"/>
<path d="M412.7,710.5 L415.3,713.1 L412.7,715.7 L410.09999999999997,713.1 Z" fill="#47286b"/>
<path d="M403.5,715.9 L406.1,718.5 L403.5,721.1 L400.9,718.5 Z" fill="#47286b"/>
<path d="M408.1,713.6 L410.70000000000005,716.2 L408.1,718.8000000000001 L405.5,716.2 Z" fill="#47286b"/>
<path d="M395.8,718.9 L398.40000000000003,721.5 L395.8,724.1 L393.2,721.5 Z" fill="#47286b"/>
<path d="M401.2,722.0 L403.8,724.6 L401.2,727.2 L398.59999999999997,724.6 Z" fill="#47286b"/>
<path d="M410.4,719.6999999999999 L413.0,722.3 L410.4,724.9 L407.79999999999995,722.3 Z" fill="#47286b"/>
<path d="M415.8,718.1999999999999 L418.40000000000003,720.8 L415.8,723.4 L413.2,720.8 Z" fill="#47286b"/>
<path d="M405.8,725.9 L408.40000000000003,728.5 L405.8,731.1 L403.2,728.5 Z" fill="#47286b"/>
<path d="M399.5,700.9 L402.1,703.5 L399.5,706.1 L396.9,703.5 Z" fill="#47286b"/>
<path d="M405.2,705.1999999999999 L407.8,707.8 L405.2,710.4 L402.59999999999997,707.8 Z" fill="#47286b"/>
<path d="M411.5,705.6 L414.1,708.2 L411.5,710.8000000000001 L408.9,708.2 Z" fill="#47286b"/>
<path d="M400.2,707.9 L402.8,710.5 L400.2,713.1 L397.59999999999997,710.5 Z" fill="#47286b"/>
<path d="M413.5,700.4 L416.1,703 L413.5,705.6 L410.9,703 Z" fill="#47286b"/>
<path d="M405.6,683.4 L408.20000000000005,686 L405.6,688.6 L403.0,686 Z" fill="#47286b"/>
<path d="M395.6,748.0 L398.20000000000005,750.6 L395.6,753.2 L393.0,750.6 Z" fill="#47286b"/>
<path d="M399.05,748.0 L401.65000000000003,750.6 L399.05,753.2 L396.45,750.6 Z" fill="#47286b"/>
<path d="M402.5,748.0 L405.1,750.6 L402.5,753.2 L399.9,750.6 Z" fill="#47286b"/>
<path d="M405.95000000000005,748.0 L408.55000000000007,750.6 L405.95000000000005,753.2 L403.35,750.6 Z" fill="#47286b"/>
<path d="M409.40000000000003,748.0 L412.00000000000006,750.6 L409.40000000000003,753.2 L406.8,750.6 Z" fill="#47286b"/>
<path d="M412.85,748.0 L415.45000000000005,750.6 L412.85,753.2 L410.25,750.6 Z" fill="#47286b"/>
<path d="M416.3,748.0 L418.90000000000003,750.6 L416.3,753.2 L413.7,750.6 Z" fill="#47286b"/>
<line x1="405.60" y1="681.80" x2="405.60" y2="692.30" stroke="#111" stroke-width="1.2"/>
<line x1="400.00" y1="681.80" x2="411.90" y2="681.80" stroke="#111" stroke-width="1.3"/>
<line x1="400.00" y1="692.30" x2="411.90" y2="692.30" stroke="#111" stroke-width="1.3"/>
<line x1="392.40" y1="685.40" x2="418.80" y2="685.40" stroke="#111" stroke-width="2.0"/>
<rect x="0.75" y="0.75" width="518.5" height="810.5" fill="none" stroke="#000" stroke-width="1.5"/>
<rect x="0" y="0" width="520" height="812" fill="none" stroke="#000" stroke-width="1"/>
</svg></div></body></html>
